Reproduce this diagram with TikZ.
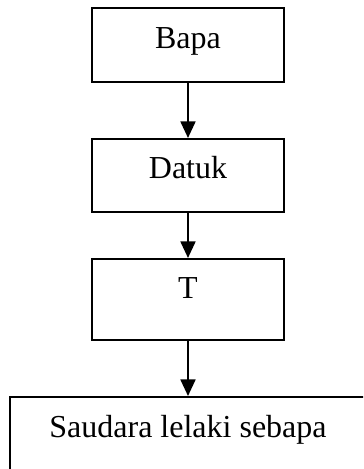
\documentclass[tikz,border=0pt]{standalone}
\usepackage{fontspec}
\setmainfont{Liberation Serif}
\usetikzlibrary{arrows.meta}
\tikzstyle{kotak}=[rectangle,draw=black,line width=0.75pt,fill=white,inner sep=0pt,minimum width=72pt,text height=15pt,font=\fontsize{12}{14}\selectfont]
\tikzstyle{panah}=[line width=0.75pt,-{Triangle[width=5.6pt,length=6.2pt]}]

\begin{document}
\begin{tikzpicture}[x=0.375pt,y=-0.375pt]
			\useasboundingbox (0,0) rectangle (363,469);
			\clip (0,0) rectangle (363,469);
			\node (bapa) at (188,45) [kotak,text depth=12.75pt] {Bapa};
			\node (datuk) at (188,175.5) [kotak,text depth=12.4pt] {Datuk};
			\node (t) at (188,299.5) [kotak,text depth=15.4pt] {T};
			\node (saudara) at (188,437) [kotak,minimum width=133.5pt,text depth=15pt] {Saudara lelaki sebapa};
			
			\foreach \a/\b in {bapa/datuk,datuk/t,t/saudara}
			\draw[panah] (\a) -- (\b);
		\end{tikzpicture}
\end{document}
